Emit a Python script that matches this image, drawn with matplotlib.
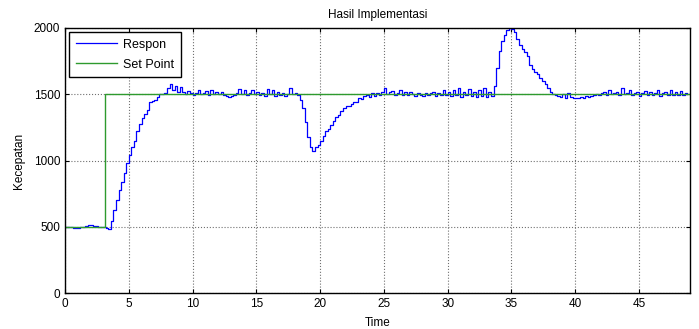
import numpy as np
import matplotlib
matplotlib.use('Agg')
import matplotlib.pyplot as plt

plt.rcParams['font.family'] = ['Liberation Sans', 'DejaVu Sans']

respon = [
    500, 500, 497, 490, 490, 492, 497, 500, 503, 517,
    517, 505, 503, 500, 500, 500, 495, 485, 545, 628,
    700, 779, 840, 905, 985, 1040, 1100, 1150, 1225, 1275,
    1320, 1350, 1382, 1440, 1450, 1458, 1480, 1505, 1500, 1510,
    1545, 1576, 1530, 1560, 1520, 1555, 1515, 1505, 1525, 1510,
    1495, 1510, 1530, 1505, 1512, 1525, 1495, 1530, 1505, 1515,
    1505, 1520, 1495, 1488, 1480, 1485, 1495, 1508, 1540, 1505,
    1530, 1495, 1510, 1530, 1505, 1520, 1495, 1512, 1490, 1540,
    1505, 1530, 1490, 1515, 1495, 1510, 1490, 1505, 1545, 1505,
    1510, 1495, 1460, 1400, 1290, 1180, 1100, 1075, 1100, 1120,
    1150, 1185, 1220, 1240, 1270, 1300, 1330, 1345, 1370, 1395,
    1410, 1415, 1430, 1440, 1440, 1470, 1465, 1485, 1495, 1480,
    1508, 1490, 1510, 1495, 1515, 1545, 1505, 1515, 1525, 1495,
    1510, 1530, 1495, 1515, 1492, 1515, 1505, 1490, 1510, 1495,
    1490, 1508, 1495, 1510, 1520, 1490, 1510, 1495, 1530, 1495,
    1515, 1490, 1535, 1495, 1550, 1480, 1520, 1495, 1540, 1490,
    1515, 1480, 1535, 1490, 1545, 1480, 1515, 1490, 1560, 1700,
    1830, 1900, 1950, 1985, 2000, 1990, 1970, 1920, 1870, 1845,
    1820, 1790, 1720, 1690, 1665, 1650, 1625, 1600, 1580, 1545,
    1520, 1505, 1495, 1490, 1480, 1505, 1470, 1510, 1480, 1470,
    1475, 1470, 1480, 1470, 1485, 1480, 1490, 1495, 1505, 1495,
    1510, 1520, 1495, 1530, 1505, 1510, 1520, 1495, 1545, 1505,
    1510, 1530, 1495, 1510, 1520, 1490, 1508, 1525, 1495, 1515,
    1495, 1510, 1530, 1490, 1510, 1520, 1495, 1530, 1495, 1515,
    1495, 1525, 1495, 1510, 1500,
]
t_respon = np.arange(len(respon)) * 0.2

set_t = [0, 3.1, 3.1, 49]
set_v = [500, 500, 1500, 1500]

fig = plt.figure(figsize=(6.99, 3.29), dpi=100)
ax = fig.add_axes([0.093, 0.109, 0.894, 0.806])

ax.step(t_respon, respon, where='post', color='#0000ff', linewidth=0.9, label='Respon')
ax.plot(set_t, set_v, color='#2e9a2e', linewidth=1.0, label='Set Point')

ax.set_xlim(0, 49)
ax.set_ylim(0, 2000)
ax.set_xticks(np.arange(0, 50, 5))
ax.set_yticks(np.arange(0, 2001, 500))
ax.tick_params(direction='in', top=True, right=True, labelsize=8.5, length=3)
ax.grid(True, linestyle=':', color='#707070', linewidth=0.8)
for s in ax.spines.values():
    s.set_linewidth(1.0)

ax.set_title('Hasil Implementasi', fontsize=8.5, pad=7)
ax.set_xlabel('Time', fontsize=8.5, labelpad=5)
ax.set_ylabel('Kecepatan', fontsize=8.5, labelpad=6)

leg = ax.legend(loc='upper left', fontsize=9, fancybox=False, framealpha=1,
                edgecolor='black', borderaxespad=0.35, handlelength=3.3,
                labelspacing=0.65, borderpad=0.5, handletextpad=0.5)
leg.get_frame().set_linewidth(1.0)

fig.savefig('out.png', dpi=100)
